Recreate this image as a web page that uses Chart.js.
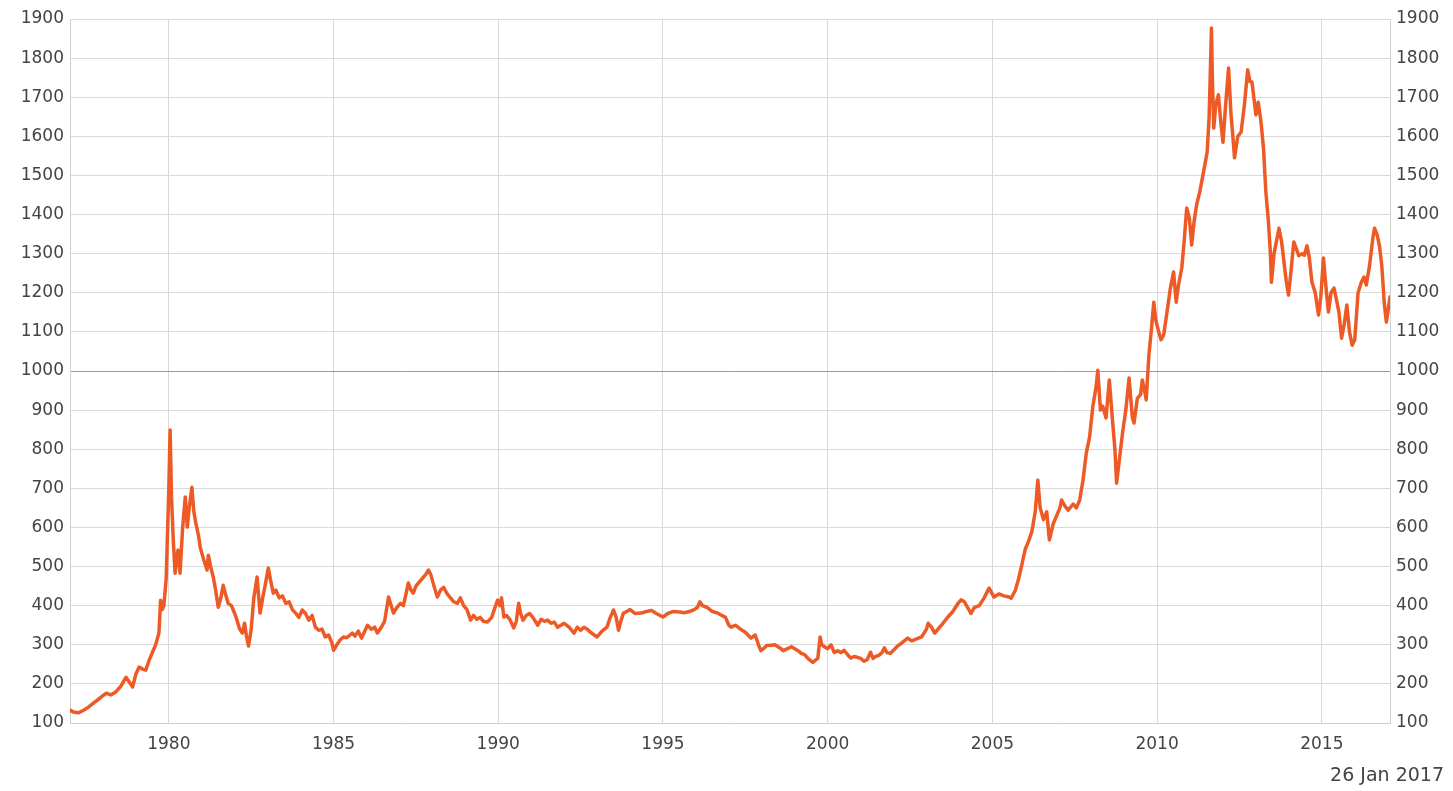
<!DOCTYPE html>
<html>
<head>
<meta charset="utf-8">
<script src="https://cdn.jsdelivr.net/npm/chart.js@4.4.1/dist/chart.umd.min.js"></script>
<style>
  html, body { margin: 0; padding: 0; background: #ffffff; }
  #wrap { width: 1453px; height: 791px; position: relative; }
</style>
</head>
<body>
<div id="wrap"><canvas id="c" width="1453" height="791"></canvas></div>
<script>
// ---- data ----
const years = [
  1977.00,1977.10,1977.25,1977.40,1977.55,1977.70,1977.85,1978.00,1978.10,1978.25,
  1978.40,1978.55,1978.70,1978.80,1978.90,1979.00,1979.10,1979.20,1979.30,1979.40,
  1979.50,1979.60,1979.70,1979.75,1979.80,1979.85,1979.92,1980.00,1980.04,1980.08,
  1980.14,1980.19,1980.24,1980.28,1980.34,1980.42,1980.50,1980.56,1980.62,1980.70,
  1980.76,1980.82,1980.90,1980.95,1981.05,1981.16,1981.20,1981.27,1981.35,1981.42,
  1981.50,1981.58,1981.65,1981.72,1981.80,1981.90,1982.00,1982.07,1982.15,1982.23,
  1982.30,1982.36,1982.42,1982.50,1982.58,1982.68,1982.72,1982.77,1982.85,1982.92,
  1983.02,1983.10,1983.17,1983.25,1983.35,1983.45,1983.55,1983.65,1983.75,1983.85,
  1983.95,1984.05,1984.15,1984.25,1984.35,1984.45,1984.55,1984.65,1984.75,1984.85,
  1984.95,1985.00,1985.10,1985.20,1985.30,1985.40,1985.50,1985.57,1985.65,1985.75,
  1985.85,1985.95,1986.03,1986.15,1986.25,1986.33,1986.45,1986.55,1986.67,1986.75,
  1986.82,1986.92,1987.03,1987.12,1987.20,1987.27,1987.35,1987.42,1987.50,1987.60,
  1987.70,1987.80,1987.88,1987.95,1988.05,1988.15,1988.25,1988.34,1988.45,1988.55,
  1988.65,1988.76,1988.85,1988.95,1989.05,1989.16,1989.25,1989.35,1989.45,1989.55,
  1989.67,1989.80,1989.90,1989.98,1990.05,1990.10,1990.17,1990.25,1990.35,1990.47,
  1990.55,1990.62,1990.68,1990.75,1990.85,1990.95,1991.05,1991.20,1991.30,1991.40,
  1991.50,1991.60,1991.70,1991.80,1991.90,1992.00,1992.15,1992.30,1992.40,1992.50,
  1992.60,1992.70,1992.80,1993.00,1993.15,1993.30,1993.40,1993.50,1993.58,1993.65,
  1993.72,1993.80,1993.90,1994.00,1994.15,1994.33,1994.50,1994.65,1994.80,1995.00,
  1995.15,1995.30,1995.50,1995.65,1995.80,1995.95,1996.05,1996.12,1996.20,1996.35,
  1996.50,1996.67,1996.76,1996.90,1997.00,1997.07,1997.20,1997.35,1997.50,1997.67,
  1997.80,1997.90,1997.97,1998.05,1998.15,1998.28,1998.40,1998.55,1998.65,1998.80,
  1998.90,1999.00,1999.10,1999.20,1999.30,1999.40,1999.50,1999.55,1999.62,1999.70,
  1999.77,1999.82,1999.90,2000.00,2000.10,2000.20,2000.30,2000.40,2000.50,2000.60,
  2000.70,2000.80,2000.90,2001.00,2001.10,2001.20,2001.30,2001.38,2001.45,2001.55,
  2001.65,2001.72,2001.80,2001.90,2002.00,2002.10,2002.25,2002.43,2002.55,2002.70,
  2002.85,2003.00,2003.05,2003.15,2003.25,2003.40,2003.50,2003.65,2003.80,2003.95,
  2004.05,2004.15,2004.25,2004.35,2004.45,2004.60,2004.75,2004.90,2005.05,2005.20,
  2005.35,2005.50,2005.57,2005.70,2005.80,2005.88,2006.00,2006.10,2006.20,2006.30,
  2006.38,2006.45,2006.55,2006.65,2006.73,2006.85,2006.95,2007.05,2007.10,2007.20,
  2007.30,2007.45,2007.55,2007.65,2007.75,2007.85,2007.95,2008.05,2008.15,2008.20,
  2008.28,2008.35,2008.45,2008.55,2008.65,2008.72,2008.77,2008.85,2008.95,2009.05,
  2009.15,2009.25,2009.30,2009.40,2009.50,2009.55,2009.62,2009.67,2009.75,2009.82,
  2009.90,2009.96,2010.05,2010.12,2010.20,2010.30,2010.40,2010.50,2010.58,2010.65,
  2010.75,2010.82,2010.90,2010.98,2011.05,2011.12,2011.20,2011.30,2011.45,2011.52,
  2011.58,2011.65,2011.68,2011.72,2011.78,2011.86,2011.93,2012.00,2012.08,2012.17,
  2012.24,2012.30,2012.35,2012.45,2012.55,2012.65,2012.75,2012.82,2012.88,2012.95,
  2013.00,2013.07,2013.15,2013.23,2013.30,2013.38,2013.44,2013.47,2013.55,2013.62,
  2013.70,2013.78,2013.85,2013.92,2013.99,2014.07,2014.15,2014.22,2014.30,2014.40,
  2014.47,2014.55,2014.62,2014.70,2014.80,2014.90,2014.97,2015.05,2015.12,2015.20,
  2015.28,2015.37,2015.45,2015.52,2015.60,2015.68,2015.76,2015.84,2015.92,2016.00,
  2016.10,2016.20,2016.28,2016.35,2016.45,2016.55,2016.60,2016.68,2016.75,2016.82,
  2016.90,2016.96,2017.02,2017.07
];
const prices = [
  133,128,126,132,140,150,160,170,176,172,
  180,195,217,205,192,225,243,238,235,260,
  280,300,330,414,390,400,470,700,849,680,
  560,483,520,542,483,600,678,601,650,703,
  640,611,580,550,520,491,529,500,473,440,
  396,420,452,430,406,400,380,363,340,330,
  355,320,297,340,420,473,430,381,420,450,
  496,460,432,440,420,425,406,410,390,381,
  370,389,380,363,375,345,337,340,320,325,
  305,286,300,312,320,318,325,330,322,335,
  317,335,350,340,345,330,345,360,422,400,
  381,395,406,400,430,458,440,432,450,460,
  470,480,491,480,450,422,440,447,430,420,
  410,406,420,400,390,363,375,365,370,360,
  358,370,395,414,400,420,371,375,365,343,
  360,406,380,363,375,380,370,350,365,360,
  363,355,358,345,350,355,345,330,345,337,
  345,340,332,320,335,345,370,389,370,337,
  360,381,385,390,380,381,385,388,380,371,
  380,385,384,382,385,390,396,410,400,395,
  385,381,376,370,350,345,350,340,332,317,
  325,300,285,290,298,299,300,292,285,291,
  295,290,285,278,275,265,258,255,260,265,
  320,300,295,290,300,280,285,280,286,275,
  266,270,268,265,258,262,281,265,270,273,
  280,292,280,278,286,295,305,317,310,315,
  320,340,355,345,330,345,355,371,385,405,
  415,410,395,380,395,400,420,445,422,430,
  425,422,419,440,470,499,545,565,590,640,
  721,650,620,640,568,610,630,650,670,655,
  644,660,650,670,720,790,831,910,960,1002,
  900,910,880,977,870,800,713,770,841,900,
  982,880,867,930,940,977,950,926,1040,1100,
  1176,1130,1100,1080,1092,1150,1210,1253,1176,1220,
  1264,1330,1417,1390,1322,1380,1425,1460,1527,1560,
  1650,1877,1740,1621,1680,1706,1640,1585,1680,1775,
  1660,1600,1545,1600,1611,1680,1770,1740,1739,1690,
  1655,1687,1640,1570,1460,1381,1300,1227,1300,1330,
  1365,1330,1280,1230,1194,1260,1330,1314,1295,1300,
  1296,1320,1290,1227,1200,1143,1190,1289,1220,1151,
  1200,1212,1180,1150,1084,1120,1169,1100,1066,1080,
  1200,1227,1240,1220,1270,1340,1365,1348,1320,1270,
  1170,1125,1160,1190
];
const yearTicks = [1980, 1985, 1990, 1995, 2000, 2005, 2010, 2015];
const priceTicks = [100,200,300,400,500,600,700,800,900,1000,1100,1200,1300,1400,1500,1600,1700,1800,1900];
const dateLabel = '26 Jan 2017';

// ---- chart ----
const FONT = "'DejaVu Sans', 'Liberation Sans', Arial, sans-serif";
const TEXT = '#444444';
const points = years.map((x, i) => ({ x: x, y: prices[i] }));

const footerPlugin = {
  id: 'footerDate',
  afterDraw(chart) {
    const ctx = chart.ctx;
    ctx.save();
    ctx.font = "19px " + FONT;
    ctx.fillStyle = TEXT;
    ctx.textAlign = 'right';
    ctx.textBaseline = 'middle';
    ctx.fillText(dateLabel, chart.width - 9, 776);
    ctx.restore();
  }
};

new Chart(document.getElementById('c'), {
  type: 'line',
  data: {
    datasets: [{
      data: points,
      borderColor: '#ee5a26',
      borderWidth: 3.5,
      borderJoinStyle: 'round',
      borderCapStyle: 'round',
      pointRadius: 0,
      tension: 0,
      fill: false,
      yAxisID: 'y'
    }]
  },
  options: {
    responsive: false,
    animation: false,
    events: [],
    layout: { padding: { top: 19, bottom: 0, left: 0, right: 0 } },
    plugins: { legend: { display: false }, tooltip: { enabled: false }, title: { display: false } },
    scales: {
      x: {
        type: 'linear',
        min: 1977.0,
        max: 2017.07,
        afterBuildTicks: (scale) => { scale.ticks = yearTicks.map(v => ({ value: v })); },
        afterFit: (scale) => { scale.height = 68; },
        grid: { color: '#d9d9d9', lineWidth: 1, drawTicks: false },
        border: { display: true, color: '#d0d0d0' },
        ticks: {
          padding: 11,
          color: TEXT,
          font: { family: FONT, size: 17 },
          maxRotation: 0,
          autoSkip: false,
          callback: (v) => String(v)
        }
      },
      y: {
        position: 'left',
        min: 100,
        max: 1900,
        afterBuildTicks: (scale) => { scale.ticks = priceTicks.map(v => ({ value: v })); },
        afterFit: (scale) => { scale.width = 70; },
        grid: {
          color: (c) => (c.tick && c.tick.value === 1000) ? '#9a9a9a' : '#d9d9d9',
          lineWidth: 1,
          drawTicks: false
        },
        border: { display: true, color: '#d0d0d0' },
        ticks: {
          padding: 6,
          color: TEXT,
          font: { family: FONT, size: 17 },
          autoSkip: false,
          callback: (v) => String(v)
        }
      },
      y2: {
        position: 'right',
        min: 100,
        max: 1900,
        afterBuildTicks: (scale) => { scale.ticks = priceTicks.map(v => ({ value: v })); },
        afterFit: (scale) => { scale.width = 63; },
        grid: { display: false, drawTicks: false },
        border: { display: true, color: '#d0d0d0' },
        ticks: {
          padding: 6,
          color: TEXT,
          font: { family: FONT, size: 17 },
          autoSkip: false,
          callback: (v) => String(v)
        }
      }
    }
  },
  plugins: [footerPlugin]
});
</script>
</body>
</html>
